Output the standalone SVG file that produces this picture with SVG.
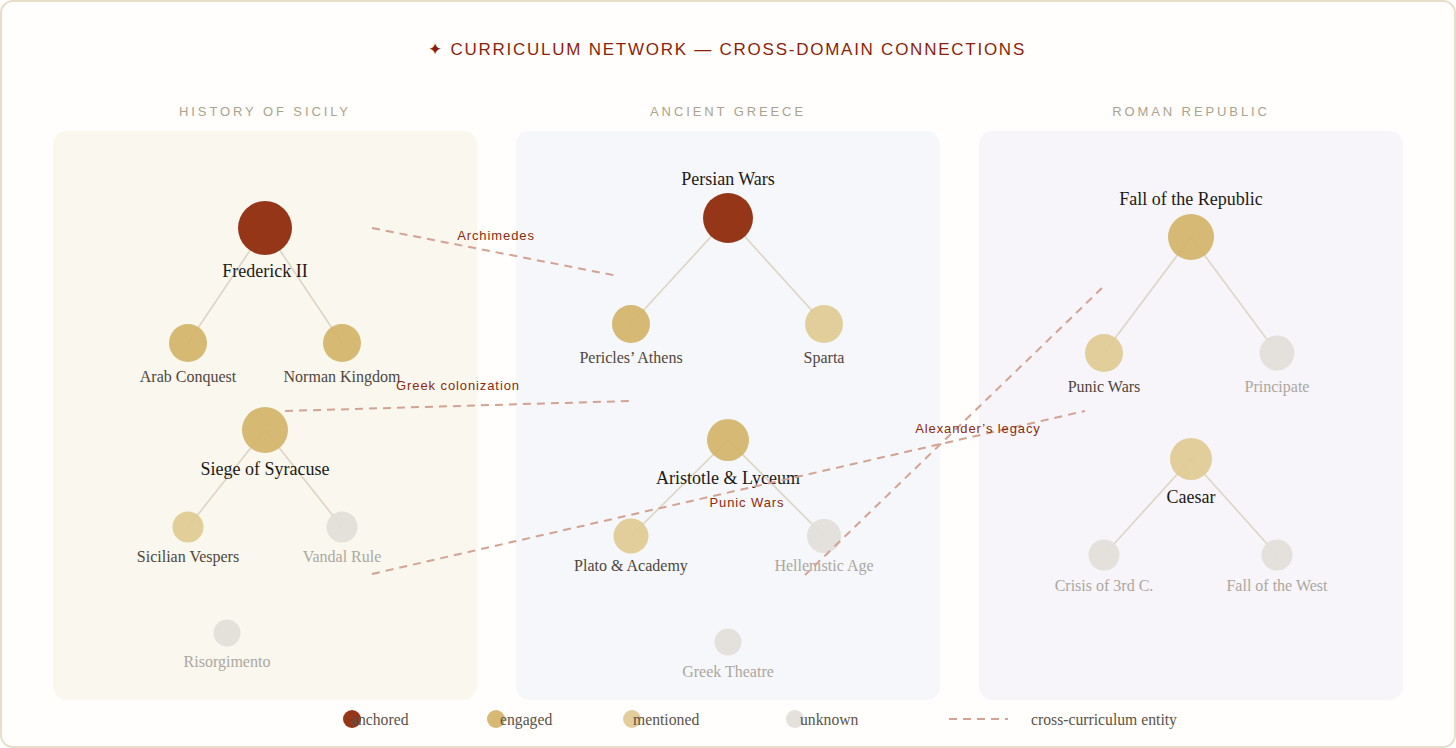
<svg xmlns="http://www.w3.org/2000/svg" width="1456" height="748" viewBox="0 0 1456 748">
<style>
.title{font-family:"Liberation Sans","DejaVu Sans",sans-serif;font-size:17px;fill:#8b1f0a;letter-spacing:1.75px;text-anchor:middle}
.ptitle{font-family:"Liberation Sans","DejaVu Sans",sans-serif;font-size:13px;fill:#aaa38f;letter-spacing:2.9px;text-anchor:middle}
.edge{stroke:#ddd5c3;stroke-width:1.6;fill:none}
.anch{fill:#963619}
.eng{fill:#d3b469;fill-opacity:0.93}
.men{fill:#dfca92;fill-opacity:0.93}
.unk{fill:#e2dfd9;fill-opacity:0.93}
.lp{font-family:"Liberation Serif","DejaVu Serif",serif;font-size:18px;fill:#1c1a17;text-anchor:middle}
.ls{font-family:"Liberation Serif","DejaVu Serif",serif;font-size:16px;fill:#4e463c;text-anchor:middle}
.lu{font-family:"Liberation Serif","DejaVu Serif",serif;font-size:16px;fill:#aca79f;text-anchor:middle}
.cross{stroke:#d2a293;stroke-width:2;stroke-dasharray:8 6;fill:none}
.cl{font-family:"Liberation Sans","DejaVu Sans",sans-serif;font-size:13px;fill:#8b2a0a;letter-spacing:0.9px;text-anchor:middle}
.leg{font-family:"Liberation Serif","DejaVu Serif",serif;font-size:15.7px;fill:#5a5248}
</style>
<rect x="1" y="1" width="1454" height="746" rx="12" fill="#fffefc" stroke="#e6dec8" stroke-width="2"/>
<text class="title" x="727" y="55">✦ CURRICULUM NETWORK — CROSS-DOMAIN CONNECTIONS</text>
<g id="panels">
<rect x="53" y="131" width="424" height="569" rx="14" fill="#faf7ef"/>
<rect x="516" y="131" width="424" height="569" rx="14" fill="#f6f7fa"/>
<rect x="979" y="131" width="424" height="569" rx="14" fill="#f7f5fa"/>
<text class="ptitle" x="265" y="116">HISTORY OF SICILY</text>
<text class="ptitle" x="728" y="116">ANCIENT GREECE</text>
<text class="ptitle" x="1191" y="116">ROMAN REPUBLIC</text>
</g>
<g id="connectors">
<line class="edge" x1="265" y1="228" x2="188" y2="343"/>
<line class="edge" x1="265" y1="228" x2="342" y2="343"/>
<line class="edge" x1="265" y1="430" x2="188" y2="527"/>
<line class="edge" x1="265" y1="430" x2="342" y2="527"/>
<line class="edge" x1="728" y1="218" x2="631" y2="324"/>
<line class="edge" x1="728" y1="218" x2="824" y2="324"/>
<line class="edge" x1="728" y1="440" x2="631" y2="536"/>
<line class="edge" x1="728" y1="440" x2="824" y2="536"/>
<line class="edge" x1="1191" y1="237" x2="1104" y2="353"/>
<line class="edge" x1="1191" y1="237" x2="1277" y2="353"/>
<line class="edge" x1="1191" y1="459" x2="1104" y2="555"/>
<line class="edge" x1="1191" y1="459" x2="1277" y2="555"/>
</g>
<g id="n-frederick"><circle class="anch" cx="265" cy="228" r="27"/><text class="lp" x="265" y="277">Frederick II</text></g>
<g id="n-arab"><circle class="eng" cx="188" cy="343" r="19"/><text class="ls" x="188" y="382">Arab Conquest</text></g>
<g id="n-norman"><circle class="eng" cx="342" cy="343" r="19"/><text class="ls" x="342" y="382">Norman Kingdom</text></g>
<g id="n-syracuse"><circle class="eng" cx="265" cy="430" r="23"/><text class="lp" x="265" y="475">Siege of Syracuse</text></g>
<g id="n-vespers"><circle class="men" cx="188" cy="527" r="15.5"/><text class="ls" x="188" y="562">Sicilian Vespers</text></g>
<g id="n-vandal"><circle class="unk" cx="342" cy="527" r="15.5"/><text class="lu" x="342" y="562">Vandal Rule</text></g>
<g id="n-risorgimento"><circle class="unk" cx="227" cy="633" r="13.5"/><text class="lu" x="227" y="667">Risorgimento</text></g>
<g id="n-persian"><circle class="anch" cx="728" cy="218" r="25"/><text class="lp" x="728" y="185">Persian Wars</text></g>
<g id="n-pericles"><circle class="eng" cx="631" cy="324" r="19"/><text class="ls" x="631" y="363">Pericles’ Athens</text></g>
<g id="n-sparta"><circle class="men" cx="824" cy="324" r="19"/><text class="ls" x="824" y="363">Sparta</text></g>
<g id="n-aristotle"><circle class="eng" cx="728" cy="440" r="21"/><text class="lp" x="728" y="484">Aristotle &amp; Lyceum</text></g>
<g id="n-plato"><circle class="men" cx="631" cy="536" r="17.5"/><text class="ls" x="631" y="571">Plato &amp; Academy</text></g>
<g id="n-hellenistic"><circle class="unk" cx="824" cy="536" r="17"/><text class="lu" x="824" y="571">Hellenistic Age</text></g>
<g id="n-theatre"><circle class="unk" cx="728" cy="642" r="13.5"/><text class="lu" x="728" y="677">Greek Theatre</text></g>
<g id="n-fallrep"><circle class="eng" cx="1191" cy="237" r="23"/><text class="lp" x="1191" y="205">Fall of the Republic</text></g>
<g id="n-punic"><circle class="men" cx="1104" cy="353" r="19"/><text class="ls" x="1104" y="392">Punic Wars</text></g>
<g id="n-principate"><circle class="unk" cx="1277" cy="353" r="17.5"/><text class="lu" x="1277" y="392">Principate</text></g>
<g id="n-caesar"><circle class="men" cx="1191" cy="459" r="21"/><text class="lp" x="1191" y="503">Caesar</text></g>
<g id="n-crisis"><circle class="unk" cx="1104" cy="555" r="15.5"/><text class="lu" x="1104" y="591">Crisis of 3rd C.</text></g>
<g id="n-fallwest"><circle class="unk" cx="1277" cy="555" r="15.5"/><text class="lu" x="1277" y="591">Fall of the West</text></g>
<g id="cross-links">
<line class="cross" x1="372" y1="228" x2="618" y2="276"/>
<text class="cl" x="496" y="240">Archimedes</text>
<line class="cross" x1="285" y1="411" x2="630" y2="401"/>
<text class="cl" x="458" y="390">Greek colonization</text>
<line class="cross" x1="372" y1="574" x2="1085" y2="411"/>
<text class="cl" x="747" y="507">Punic Wars</text>
<line class="cross" x1="1102" y1="288" x2="805" y2="575"/>
<text class="cl" x="978" y="433">Alexander’s legacy</text>
</g>
<g id="legend">
<circle class="anch" cx="352" cy="719" r="9"/><text class="leg" x="351" y="725">anchored</text>
<circle class="eng" cx="496" cy="719" r="9"/><text class="leg" x="500" y="725">engaged</text>
<circle class="men" cx="632" cy="719" r="9"/><text class="leg" x="633" y="725">mentioned</text>
<circle class="unk" cx="795" cy="719" r="9"/><text class="leg" x="800" y="725">unknown</text>
<line class="cross" x1="949" y1="719" x2="1008" y2="719"/>
<text class="leg" x="1031" y="725">cross-curriculum entity</text>
</g>
</svg>
